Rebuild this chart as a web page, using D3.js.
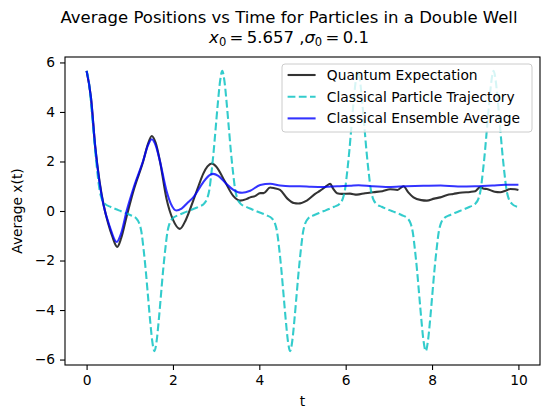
<!DOCTYPE html>
<html>
<head>
<meta charset="utf-8">
<script src="https://cdn.jsdelivr.net/npm/d3@7/dist/d3.min.js"></script>
<style>
  html, body { margin: 0; padding: 0; background: #fff; }
  svg { display: block; }
  text { font-family: "DejaVu Sans", sans-serif; }
</style>
</head>
<body>
<svg id="chart" width="543" height="411"></svg>
<script>
// ---------------- DATA ----------------
const xTicks = [0, 2, 4, 6, 8, 10];
const yTicks = [-6, -4, -2, 0, 2, 4, 6];
const seriesNames = ["Quantum Expectation", "Classical Particle Trajectory", "Classical Ensemble Average"];

const quantumT = [0, 0.1, 0.2, 0.3, 0.4, 0.5, 0.6, 0.71, 0.8, 0.93, 1.1, 1.31, 1.42, 1.51, 1.6, 1.7, 1.85, 2.0, 2.16, 2.3, 2.47, 2.6, 2.7, 2.8, 2.9, 3.0, 3.2, 3.4, 3.55, 3.7, 3.79, 3.9, 4.02, 4.1, 4.25, 4.35, 4.48, 4.65, 4.8, 4.9, 5.1, 5.3, 5.41, 5.55, 5.64, 5.71, 5.8, 5.91, 6.1, 6.26, 6.45, 6.64, 6.85, 7.03, 7.2, 7.34, 7.45, 7.57, 7.75, 7.88, 8.05, 8.19, 8.35, 8.49, 8.7, 8.88, 9.0, 9.11, 9.2, 9.27, 9.45, 9.58, 9.7, 9.81, 9.92, 10];
const quantumX = [5.66, 4.6, 2.6, 1.2, 0.2, -0.5, -1.05, -1.45, -1.1, -0.2, 0.9, 2.0, 2.7, 3.03, 2.75, 2.0, 0.5, -0.35, -0.72, -0.35, 0.42, 1.05, 1.5, 1.8, 1.92, 1.8, 1.2, 0.6, 0.42, 0.48, 0.55, 0.6, 0.72, 0.72, 0.95, 0.92, 0.85, 0.5, 0.32, 0.3, 0.42, 0.7, 0.82, 1.0, 1.1, 0.9, 0.72, 0.69, 0.7, 0.66, 0.72, 0.76, 0.8, 0.88, 0.85, 1.0, 0.75, 0.55, 0.44, 0.42, 0.5, 0.55, 0.65, 0.69, 0.75, 0.77, 0.8, 0.96, 0.9, 0.89, 0.78, 0.76, 0.82, 0.89, 0.88, 0.85];

const classicalT = [0, 0.05, 0.1, 0.15, 0.2, 0.25, 0.3, 0.35, 0.42, 0.55, 0.67, 0.785, 0.9, 1.02, 1.15, 1.22, 1.27, 1.32, 1.37, 1.42, 1.47, 1.52, 1.571,
  1.622, 1.672, 1.722, 1.772, 1.822, 1.872, 1.922, 1.992, 2.122, 2.242, 2.357, 2.472, 2.592, 2.722, 2.792, 2.842, 2.892, 2.942, 2.992, 3.042, 3.092, 3.142,
  3.192, 3.242, 3.292, 3.342, 3.392, 3.442, 3.492, 3.562, 3.692, 3.812, 3.927, 4.042, 4.162, 4.292, 4.362, 4.412, 4.462, 4.512, 4.562, 4.612, 4.662, 4.713,
  4.763, 4.813, 4.863, 4.913, 4.963, 5.013, 5.063, 5.133, 5.263, 5.383, 5.498, 5.613, 5.733, 5.863, 5.933, 5.983, 6.033, 6.083, 6.133, 6.183, 6.233, 6.283,
  6.333, 6.383, 6.433, 6.483, 6.533, 6.583, 6.633, 6.703, 6.833, 6.953, 7.068, 7.183, 7.303, 7.433, 7.503, 7.553, 7.603, 7.653, 7.703, 7.753, 7.803, 7.854,
  7.905, 7.955, 8.005, 8.055, 8.105, 8.155, 8.205, 8.275, 8.405, 8.525, 8.64, 8.755, 8.875, 9.005, 9.075, 9.125, 9.175, 9.225, 9.275, 9.325, 9.375, 9.425,
  9.475, 9.525, 9.575, 9.625, 9.675, 9.725, 9.775, 9.845, 9.975, 10];
const classicalX = [5.66, 5.25, 4.4, 3.4, 2.4, 1.55, 0.85, 0.5, 0.3, 0.17, 0.08, 0, -0.08, -0.17, -0.3, -0.5, -0.85, -1.55, -2.4, -3.4, -4.4, -5.25, -5.66,
  -5.25, -4.4, -3.4, -2.4, -1.55, -0.85, -0.5, -0.3, -0.17, -0.08, 0, 0.08, 0.17, 0.3, 0.5, 0.85, 1.55, 2.4, 3.4, 4.4, 5.25, 5.66,
  5.25, 4.4, 3.4, 2.4, 1.55, 0.85, 0.5, 0.3, 0.17, 0.08, 0, -0.08, -0.17, -0.3, -0.5, -0.85, -1.55, -2.4, -3.4, -4.4, -5.25, -5.66,
  -5.25, -4.4, -3.4, -2.4, -1.55, -0.85, -0.5, -0.3, -0.17, -0.08, 0, 0.08, 0.17, 0.3, 0.5, 0.85, 1.55, 2.4, 3.4, 4.4, 5.25, 5.66,
  5.25, 4.4, 3.4, 2.4, 1.55, 0.85, 0.5, 0.3, 0.17, 0.08, 0, -0.08, -0.17, -0.3, -0.5, -0.85, -1.55, -2.4, -3.4, -4.4, -5.25, -5.66,
  -5.25, -4.4, -3.4, -2.4, -1.55, -0.85, -0.5, -0.3, -0.17, -0.08, 0, 0.08, 0.17, 0.3, 0.5, 0.85, 1.55, 2.4, 3.4, 4.4, 5.25, 5.66,
  5.25, 4.4, 3.4, 2.4, 1.55, 0.85, 0.5, 0.3, 0.17, 0.16];

const ensembleT = [0, 0.1, 0.2, 0.3, 0.385, 0.54, 0.695, 0.8, 0.93, 1.1, 1.31, 1.42, 1.51, 1.6, 1.7, 1.85, 1.95, 2.08, 2.2, 2.35, 2.47, 2.7, 2.85, 2.93, 3.05, 3.24, 3.4, 3.51, 3.6, 3.79, 4.02, 4.25, 4.48, 4.7, 4.94, 5.2, 5.5, 5.8, 6.1, 6.3, 6.6, 7.0, 7.4, 7.8, 8.2, 8.6, 9.0, 9.4, 9.7, 10];
const ensembleX = [5.66, 4.6, 2.6, 1.15, 0.29, -0.65, -1.25, -0.9, 0.02, 1.0, 2.03, 2.65, 2.9, 2.65, 2.0, 0.82, 0.3, 0.02, 0.1, 0.35, 0.55, 1.16, 1.45, 1.5, 1.42, 1.09, 0.85, 0.76, 0.74, 0.82, 1.05, 1.1, 1.03, 1.0, 1.0, 0.98, 0.97, 1.0, 1.02, 1.04, 1.0, 0.97, 1.0, 1.02, 1.03, 0.99, 1.0, 1.03, 1.06, 1.06];

// ---------------- LAYOUT ----------------
const svg = d3.select("#chart");
const L = 65, R = 540, T = 57, B = 365;
const x = d3.scaleLinear().domain([-0.5, 10.5]).range([L, R]);
const y = d3.scaleLinear().domain([-6.22, 6.22]).range([B, T]);
const FS = 13.8;

const zip = (ts, vs) => ts.map((t, i) => [t, vs[i]]);
const line = d3.line().x(d => x(d[0])).y(d => y(d[1])).curve(d3.curveMonotoneX);

const clip = svg.append("defs").append("clipPath").attr("id", "clip")
  .append("rect").attr("x", L).attr("y", T).attr("width", R - L).attr("height", B - T);

const g = svg.append("g").attr("clip-path", "url(#clip)");
const styles = [
  { color: "#000000", dash: null },
  { color: "#00bfbf", dash: "7.8,3.4" },
  { color: "#0000ff", dash: null }
];
const data = [zip(quantumT, quantumX), zip(classicalT, classicalX), zip(ensembleT, ensembleX)];
data.forEach((d, i) => {
  g.append("path").datum(d)
    .attr("d", line)
    .attr("fill", "none")
    .attr("stroke", styles[i].color)
    .attr("stroke-opacity", 0.8)
    .attr("stroke-width", 2.1)
    .attr("stroke-linejoin", "round")
    .attr("stroke-dasharray", styles[i].dash);
});

// axes
const xAxis = d3.axisBottom(x).tickValues(xTicks).tickFormat(d3.format("d")).tickSize(5).tickPadding(5);
const yAxis = d3.axisLeft(y).tickValues(yTicks).tickFormat(d3.format("d")).tickSize(5).tickPadding(5);
const gx = svg.append("g").attr("transform", `translate(0,${B})`).call(xAxis);
const gy = svg.append("g").attr("transform", `translate(${L},0)`).call(yAxis);
[gx, gy].forEach(a => {
  a.select(".domain").remove();
  a.selectAll("text").attr("font-size", FS).attr("font-family", "DejaVu Sans").attr("fill", "#000");
  a.selectAll("line").attr("stroke", "#000").attr("stroke-width", 1.1);
});

// frame
svg.append("rect").attr("x", L).attr("y", T).attr("width", R - L).attr("height", B - T)
  .attr("fill", "none").attr("stroke", "#000").attr("stroke-width", 1.1);

// axis labels
svg.append("text").attr("x", x(5)).attr("y", 406).attr("text-anchor", "middle")
  .attr("font-size", FS).text("t");
svg.append("text").attr("transform", `translate(22,${(T + B) / 2}) rotate(-90)`)
  .attr("text-anchor", "middle").attr("font-size", FS).text("Average x(t)");

// title
const TFS = 16.5;
svg.append("text").attr("x", 289).attr("y", 23).attr("text-anchor", "middle")
  .attr("font-size", TFS).text("Average Positions vs Time for Particles in a Double Well");
const t2 = svg.append("text").attr("x", 289).attr("y", 43).attr("text-anchor", "middle").attr("font-size", TFS);
t2.append("tspan").attr("font-style", "italic").text("x");
t2.append("tspan").attr("font-size", TFS * 0.7).attr("dy", 3).text("0");
t2.append("tspan").attr("dy", -3).text("\u2009=\u20095.657 ,");
t2.append("tspan").attr("font-style", "italic").text("σ");
t2.append("tspan").attr("font-size", TFS * 0.7).attr("dy", 3).text("0");
t2.append("tspan").attr("dy", -3).text("\u2009=\u20090.1");

// legend
const lg = svg.append("g");
const LX = 282, LY = 64, LW = 250, LH = 68;
lg.append("rect").attr("x", LX).attr("y", LY).attr("width", LW).attr("height", LH)
  .attr("rx", 3).attr("fill", "#fff").attr("fill-opacity", 0.8)
  .attr("stroke", "#cccccc").attr("stroke-width", 1);
seriesNames.forEach((name, i) => {
  const cy = 75 + i * 21.7;
  lg.append("line").attr("x1", 287.6).attr("x2", 315.6).attr("y1", cy).attr("y2", cy)
    .attr("stroke", styles[i].color).attr("stroke-opacity", 0.8).attr("stroke-width", 2.1)
    .attr("stroke-dasharray", styles[i].dash);
  lg.append("text").attr("x", 326.8).attr("y", cy + 5).attr("font-size", FS).text(name);
});
</script>
</body>
</html>
